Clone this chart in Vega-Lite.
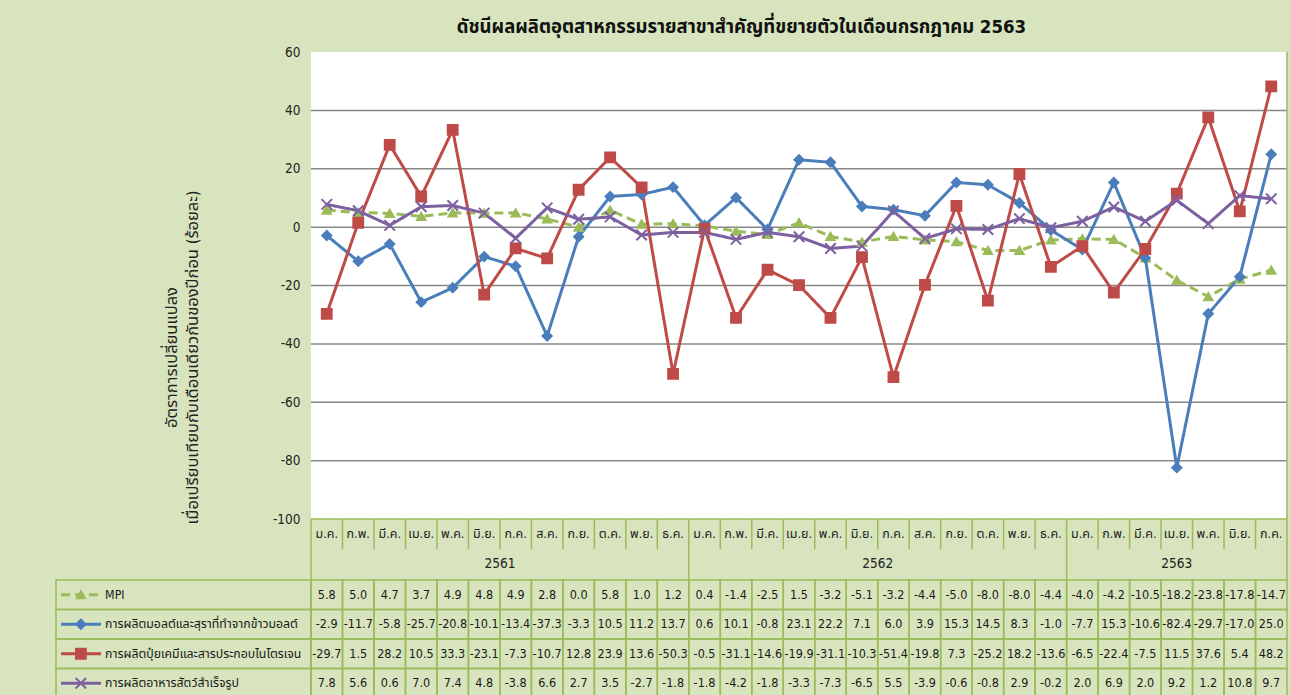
{
  "$schema": "https://vega.github.io/schema/vega-lite/v6.json",
  "background": "#d7e4bd",
  "padding": {"left": 55, "top": 17, "right": 4, "bottom": 0},
  "spacing": 0,
  "bounds": "flush",
  "config": {
    "locale": {"number": {"decimal": ".", "thousands": ",", "grouping": [3], "currency": ["", ""], "minus": "-"}},
    "view": {"stroke": null},
    "font": "DejaVu Sans Condensed, Noto Sans Thai, Loma, sans-serif",
    "concat": {"spacing": 0}
  },
  "title": {"text": "ดัชนีผลผลิตอุตสาหกรรมรายสาขาสำคัญที่ขยายตัวในเดือนกรกฎาคม 2563", "fontSize": 18.5, "fontWeight": "bold", "color": "#111111", "anchor": "middle", "dx": 70, "offset": 9},
  "datasets": {
    "d": [
      {"col":0,"m":"ม.ค.","y":"2561","mpi":5.8,"malt":-2.9,"fert":-29.7,"feed":7.8},
      {"col":1,"m":"ก.พ.","y":"2561","mpi":5.0,"malt":-11.7,"fert":1.5,"feed":5.6},
      {"col":2,"m":"มี.ค.","y":"2561","mpi":4.7,"malt":-5.8,"fert":28.2,"feed":0.6},
      {"col":3,"m":"เม.ย.","y":"2561","mpi":3.7,"malt":-25.7,"fert":10.5,"feed":7.0},
      {"col":4,"m":"พ.ค.","y":"2561","mpi":4.9,"malt":-20.8,"fert":33.3,"feed":7.4},
      {"col":5,"m":"มิ.ย.","y":"2561","mpi":4.8,"malt":-10.1,"fert":-23.1,"feed":4.8},
      {"col":6,"m":"ก.ค.","y":"2561","mpi":4.9,"malt":-13.4,"fert":-7.3,"feed":-3.8},
      {"col":7,"m":"ส.ค.","y":"2561","mpi":2.8,"malt":-37.3,"fert":-10.7,"feed":6.6},
      {"col":8,"m":"ก.ย.","y":"2561","mpi":0.0,"malt":-3.3,"fert":12.8,"feed":2.7},
      {"col":9,"m":"ต.ค.","y":"2561","mpi":5.8,"malt":10.5,"fert":23.9,"feed":3.5},
      {"col":10,"m":"พ.ย.","y":"2561","mpi":1.0,"malt":11.2,"fert":13.6,"feed":-2.7},
      {"col":11,"m":"ธ.ค.","y":"2561","mpi":1.2,"malt":13.7,"fert":-50.3,"feed":-1.8},
      {"col":12,"m":"ม.ค.","y":"2562","mpi":0.4,"malt":0.6,"fert":-0.5,"feed":-1.8},
      {"col":13,"m":"ก.พ.","y":"2562","mpi":-1.4,"malt":10.1,"fert":-31.1,"feed":-4.2},
      {"col":14,"m":"มี.ค.","y":"2562","mpi":-2.5,"malt":-0.8,"fert":-14.6,"feed":-1.8},
      {"col":15,"m":"เม.ย.","y":"2562","mpi":1.5,"malt":23.1,"fert":-19.9,"feed":-3.3},
      {"col":16,"m":"พ.ค.","y":"2562","mpi":-3.2,"malt":22.2,"fert":-31.1,"feed":-7.3},
      {"col":17,"m":"มิ.ย.","y":"2562","mpi":-5.1,"malt":7.1,"fert":-10.3,"feed":-6.5},
      {"col":18,"m":"ก.ค.","y":"2562","mpi":-3.2,"malt":6.0,"fert":-51.4,"feed":5.5},
      {"col":19,"m":"ส.ค.","y":"2562","mpi":-4.4,"malt":3.9,"fert":-19.8,"feed":-3.9},
      {"col":20,"m":"ก.ย.","y":"2562","mpi":-5.0,"malt":15.3,"fert":7.3,"feed":-0.6},
      {"col":21,"m":"ต.ค.","y":"2562","mpi":-8.0,"malt":14.5,"fert":-25.2,"feed":-0.8},
      {"col":22,"m":"พ.ย.","y":"2562","mpi":-8.0,"malt":8.3,"fert":18.2,"feed":2.9},
      {"col":23,"m":"ธ.ค.","y":"2562","mpi":-4.4,"malt":-1.0,"fert":-13.6,"feed":-0.2},
      {"col":24,"m":"ม.ค.","y":"2563","mpi":-4.0,"malt":-7.7,"fert":-6.5,"feed":2.0},
      {"col":25,"m":"ก.พ.","y":"2563","mpi":-4.2,"malt":15.3,"fert":-22.4,"feed":6.9},
      {"col":26,"m":"มี.ค.","y":"2563","mpi":-10.5,"malt":-10.6,"fert":-7.5,"feed":2.0},
      {"col":27,"m":"เม.ย.","y":"2563","mpi":-18.2,"malt":-82.4,"fert":11.5,"feed":9.2},
      {"col":28,"m":"พ.ค.","y":"2563","mpi":-23.8,"malt":-29.7,"fert":37.6,"feed":1.2},
      {"col":29,"m":"มิ.ย.","y":"2563","mpi":-17.8,"malt":-17.0,"fert":5.4,"feed":10.8},
      {"col":30,"m":"ก.ค.","y":"2563","mpi":-14.7,"malt":25.0,"fert":48.2,"feed":9.7}
    ],
    "s": [
      {"key":"mpi","label":"MPI"},
      {"key":"malt","label":"การผลิตมอลต์และสุราที่ทำจากข้าวมอลต์"},
      {"key":"fert","label":"การผลิตปุ๋ยเคมีและสารประกอบไนโตรเจน"},
      {"key":"feed","label":"การผลิตอาหารสัตว์สำเร็จรูป"}
    ],
    "grid": [{"g":-80},{"g":-60},{"g":-40},{"g":-20},{"g":0},{"g":20},{"g":40}],
    "one": [{}]
  },
  "vconcat": [
    {
      "width": 1231, "height": 467,
      "layer": [
        {
          "data": {"name": "one"},
          "mark": {"type": "rect", "fill": "#ffffff"},
          "encoding": {
            "x": {"datum": 0, "type": "quantitative", "scale": {"domain": [-8.1, 31], "nice": false, "zero": false}, "axis": null},
            "x2": {"datum": 31},
            "y": {"datum": -100, "type": "quantitative", "scale": {"domain": [-100, 60], "nice": false, "zero": false},
              "axis": {"offset": -255, "domain": false, "ticks": false, "grid": false, "values": [-100,-80,-60,-40,-20,0,20,40,60],
                "labelPadding": 11, "labelFontSize": 13.5, "labelColor": "#222222",
                "title": ["อัตราการเปลี่ยนแปลง", "เมื่อเปรียบเทียบกับเดือนเดียวกันของปีก่อน  (ร้อยละ)"],
                "titleFontSize": 16.5, "titleFontWeight": "normal", "titleColor": "#222222",
                "titleX": -140, "titleY": 305, "titleAngle": 270, "titleAlign": "center", "titleBaseline": "middle", "titleLineHeight": 21}},
            "y2": {"datum": 60}
          }
        },
        {
          "data": {"name": "grid"},
          "mark": {"type": "rule", "color": "#878787", "strokeWidth": 1.5},
          "encoding": {
            "x": {"datum": 0, "type": "quantitative"},
            "x2": {"datum": 31},
            "y": {"field": "g", "type": "quantitative"}
          }
        },
        {
          "data": {"name": "one"},
          "mark": {"type": "rule", "color": "#9bbb59", "strokeWidth": 1.5},
          "encoding": {
            "x": {"datum": 0, "type": "quantitative"},
            "x2": {"datum": 31},
            "y": {"datum": -100, "type": "quantitative"}
          }
        },
        {
          "data": {"name": "one"},
          "mark": {"type": "rule", "color": "#9bbb59", "strokeWidth": 1.5},
          "encoding": {
            "x": {"datum": 31, "type": "quantitative"},
            "y": {"datum": -100, "type": "quantitative"},
            "y2": {"datum": 60}
          }
        },
        {
          "data": {"name": "d"},
          "transform": [
            {"fold": ["mpi", "malt", "fert", "feed"], "as": ["key", "v"]},
            {"calculate": "datum.col + 0.5", "as": "cm"}
          ],
          "mark": {"type": "line", "strokeWidth": 3},
          "encoding": {
            "x": {"field": "cm", "type": "quantitative"},
            "y": {"field": "v", "type": "quantitative"},
            "color": {"field": "key", "type": "nominal", "scale": {"domain": ["mpi","malt","fert","feed"], "range": ["#9bbb59","#4a7ebb","#be4b48","#7d60a0"]}, "legend": null},
            "strokeDash": {"field": "key", "type": "nominal", "scale": {"domain": ["mpi","malt","fert","feed"], "range": [[9,5],[1,0],[1,0],[1,0]]}, "legend": null}
          }
        },
        {
          "data": {"name": "d"},
          "transform": [
            {"fold": ["mpi", "malt", "fert", "feed"], "as": ["key", "v"]},
            {"calculate": "datum.col + 0.5", "as": "cm"}
          ],
          "mark": {"type": "point", "filled": true, "opacity": 1, "strokeWidth": 2},
          "encoding": {
            "x": {"field": "cm", "type": "quantitative"},
            "y": {"field": "v", "type": "quantitative"},
            "color": {"field": "key", "type": "nominal", "legend": null},
            "stroke": {"field": "key", "type": "nominal", "scale": {"domain": ["mpi","malt","fert","feed"], "range": ["#9bbb59","#4a7ebb","#be4b48","#7d60a0"]}, "legend": null},
            "shape": {"field": "key", "type": "nominal", "scale": {"domain": ["mpi","malt","fert","feed"], "range": ["triangle-up","diamond","square","M-1,-1L1,1M-1,1L1,-1"]}, "legend": null},
            "size": {"field": "key", "type": "nominal", "scale": {"domain": ["mpi","malt","fert","feed"], "range": [70, 110, 120, 100]}, "legend": null}
          }
        }
      ]
    },
    {
      "width": 1231, "height": 30,
      "data": {"name": "d"},
      "transform": [{"calculate": "datum.col + 0.5", "as": "cm"}],
      "layer": [
        {
          "mark": {"type": "rule", "color": "#9bbb59", "strokeWidth": 1.5},
          "encoding": {"x": {"field": "col", "type": "quantitative", "scale": {"domain": [-8.1, 31], "nice": false, "zero": false}, "axis": null}}
        },
        {
          "data": {"name": "one"},
          "mark": {"type": "rule", "color": "#9bbb59", "strokeWidth": 1.5},
          "encoding": {"x": {"datum": 31, "type": "quantitative", "axis": null}}
        },
        {
          "mark": {"type": "text", "fontSize": 12.5, "color": "#222222"},
          "encoding": {
            "x": {"field": "cm", "type": "quantitative", "axis": null},
            "text": {"field": "m"}
          }
        }
      ]
    },
    {
      "width": 1231, "height": 30.5,
      "data": {"name": "d"},
      "transform": [{"calculate": "datum.col + 0.5", "as": "cm"}],
      "layer": [
        {
          "transform": [{"aggregate": [{"op": "min", "field": "col", "as": "c0"}], "groupby": ["y"]}],
          "mark": {"type": "rule", "color": "#9bbb59", "strokeWidth": 1.5},
          "encoding": {"x": {"field": "c0", "type": "quantitative", "scale": {"domain": [-8.1, 31], "nice": false, "zero": false}, "axis": null}}
        },
        {
          "data": {"name": "one"},
          "mark": {"type": "rule", "color": "#9bbb59", "strokeWidth": 1.5},
          "encoding": {"x": {"datum": 31, "type": "quantitative", "axis": null}}
        },
        {
          "transform": [{"aggregate": [{"op": "mean", "field": "cm", "as": "ym"}], "groupby": ["y"]}],
          "mark": {"type": "text", "fontSize": 13.5, "color": "#222222"},
          "encoding": {
            "x": {"field": "ym", "type": "quantitative", "axis": null},
            "text": {"field": "y"}
          }
        }
      ]
    },
    {
      "width": 1231, "height": 118,
      "layer": [
        {
          "data": {"name": "d"},
          "transform": [
            {"fold": ["mpi", "malt", "fert", "feed"], "as": ["key", "v"]},
            {"calculate": "datum.col + 1", "as": "c1"}
          ],
          "mark": {"type": "rect", "fillOpacity": 0, "stroke": "#9bbb59", "strokeWidth": 1.5},
          "encoding": {
            "x": {"field": "col", "type": "quantitative", "scale": {"domain": [-8.1, 31], "nice": false, "zero": false}, "axis": null},
            "x2": {"field": "c1"},
            "y": {"field": "key", "type": "nominal", "scale": {"domain": ["mpi","malt","fert","feed"], "paddingInner": 0, "paddingOuter": 0}, "axis": null}
          }
        },
        {
          "data": {"name": "s"},
          "mark": {"type": "rect", "fillOpacity": 0, "stroke": "#9bbb59", "strokeWidth": 1.5},
          "encoding": {
            "x": {"datum": -8.1, "type": "quantitative", "axis": null},
            "x2": {"datum": 0},
            "y": {"field": "key", "type": "nominal", "axis": null}
          }
        },
        {
          "data": {"name": "d"},
          "transform": [
            {"fold": ["mpi", "malt", "fert", "feed"], "as": ["key", "v"]},
            {"calculate": "datum.col + 0.5", "as": "cm"}
          ],
          "mark": {"type": "text", "fontSize": 12.5, "color": "#1a1a1a"},
          "encoding": {
            "x": {"field": "cm", "type": "quantitative", "axis": null},
            "y": {"field": "key", "type": "nominal", "axis": null},
            "text": {"field": "v", "type": "quantitative", "format": ".1f"}
          }
        },
        {
          "data": {"name": "s"},
          "mark": {"type": "text", "fontSize": 12.3, "color": "#1a1a1a", "align": "left"},
          "encoding": {
            "x": {"datum": -6.54, "type": "quantitative", "axis": null},
            "y": {"field": "key", "type": "nominal", "axis": null},
            "text": {"field": "label"}
          }
        },
        {
          "data": {"name": "s"},
          "mark": {"type": "rule", "strokeWidth": 3},
          "encoding": {
            "x": {"datum": -7.94, "type": "quantitative", "axis": null},
            "x2": {"datum": -6.67},
            "y": {"field": "key", "type": "nominal", "axis": null},
            "color": {"field": "key", "type": "nominal", "legend": null},
            "strokeDash": {"field": "key", "type": "nominal", "legend": null}
          }
        },
        {
          "data": {"name": "s"},
          "mark": {"type": "point", "filled": true, "opacity": 1, "strokeWidth": 2},
          "encoding": {
            "x": {"datum": -7.31, "type": "quantitative", "axis": null},
            "y": {"field": "key", "type": "nominal", "axis": null},
            "color": {"field": "key", "type": "nominal", "legend": null},
            "stroke": {"field": "key", "type": "nominal", "legend": null},
            "shape": {"field": "key", "type": "nominal", "legend": null},
            "size": {"field": "key", "type": "nominal", "scale": {"domain": ["mpi","malt","fert","feed"], "range": [80, 110, 140, 100]}, "legend": null}
          }
        }
      ]
    }
  ]
}
